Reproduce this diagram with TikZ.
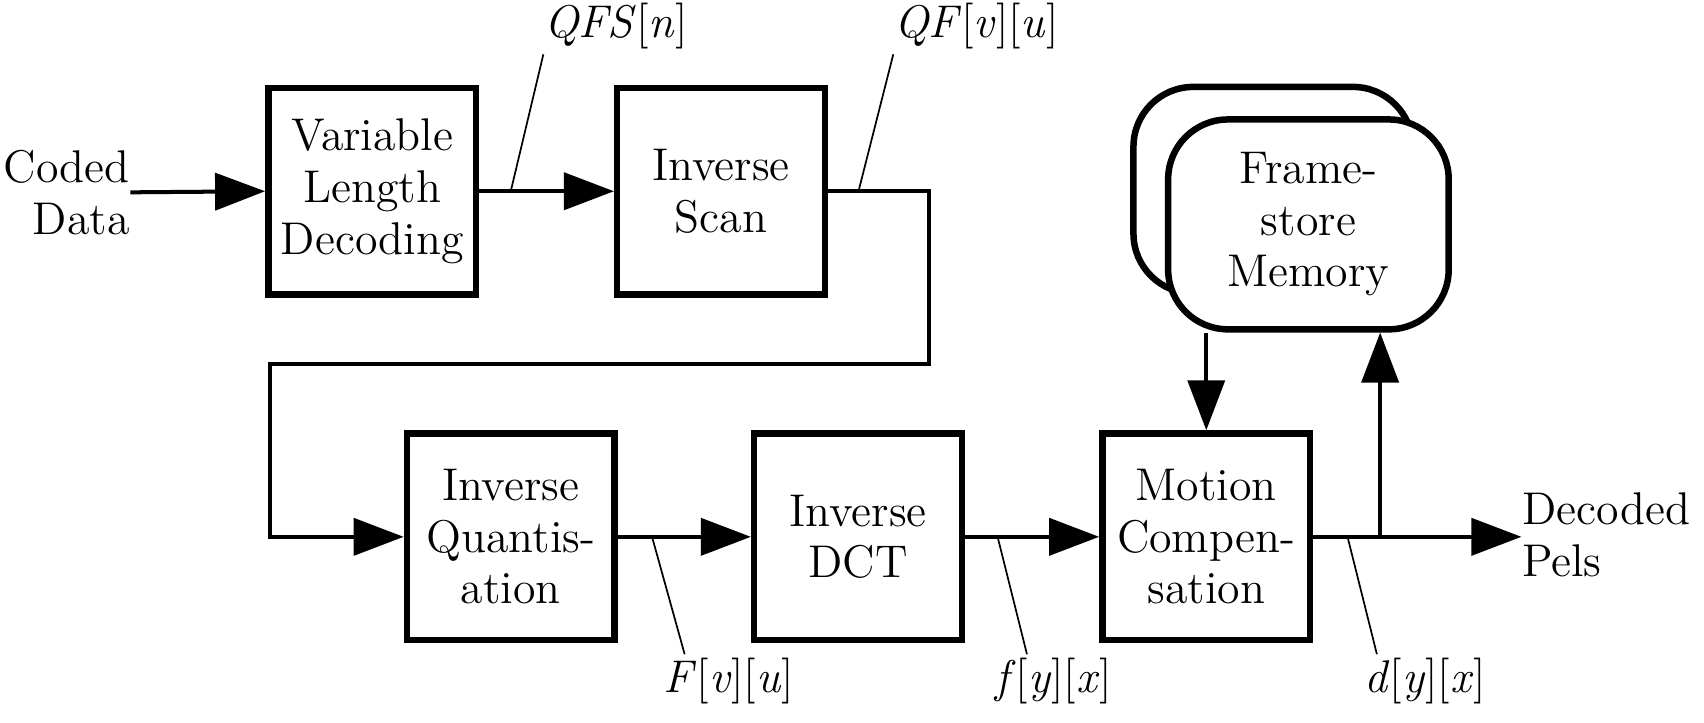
\documentclass[tikz,border=0pt]{standalone}
\usetikzlibrary{arrows.meta,calc}
\begin{document}
\begin{tikzpicture}[x=0.01cm,y=-0.01cm,
 blk/.style={draw,line width=1.7pt,minimum width=1.91cm,minimum height=1.9cm,align=center,inner sep=0pt,font=\rmfamily\fontsize{12}{13.5}\selectfont},
 mem/.style={draw,fill=white,line width=1.7pt,rounded corners=0.55cm,minimum width=2.58cm,minimum height=1.93cm,align=center,inner sep=0pt,font=\rmfamily\fontsize{12}{13.5}\selectfont},
 conn/.style={line width=1.05pt,-{Triangle[length=4.6mm,width=3.4mm]}},
 wire/.style={line width=1.05pt},
 lead/.style={line width=0.45pt},
 lbl/.style={font=\rmfamily\fontsize{12}{13.5}\selectfont,inner sep=0pt},
 txt/.style={font=\rmfamily\fontsize{12}{13.5}\selectfont,inner sep=0pt}]
\useasboundingbox (0,0) rectangle (1568,665);
% blocks
\node[txt,align=right,anchor=east] (in) at (120,177) {Coded\\Data};
\node[blk] (vld) at (342.5,176) {Variable\\Length\\Decoding};
\node[blk] (scan) at (663.5,176) {Inverse\\Scan};
\node[blk] (iq) at (470,494) {Inverse\\Quantis-\\ation};
\node[blk] (idct) at (789.5,494) {Inverse\\DCT};
\node[blk] (mc) at (1110,494) {Motion\\Compen-\\sation};
\node[txt,align=left,anchor=west] (out) at (1400,492) {Decoded\\Pels};
% frame store
\draw[line width=1.7pt,rounded corners=0.55cm] (1043,80) rectangle (1300,270);
\node[mem] (fs) at (1204,206.5) {Frame-\\store\\Memory};
% connectors
\draw[conn] (in.east) -- (vld.west);
\draw[conn] (vld.east) -- (scan.west);
\coordinate (j1) at (855,335);
\coordinate (j2) at (248,335);
\draw[conn] (scan.east) -| (j1) -- (j2) |- (iq.west);
\draw[conn] (iq.east) -- (idct.west);
\draw[conn] (idct.east) -- (mc.west);
\draw[conn] (mc.east) -- (mc.east -| out.west);
\coordinate (br) at (1270,494);
\draw[conn] (br) -- (br |- fs.south);
\draw[conn] (mc.north |- fs.south) -- (mc.north);
% labels
\node[lbl,anchor=south west] (qfs) at (500,46) {\textit{QFS}[\textit{n}]};
\node[lbl,anchor=south west] (qf) at (822,46) {\textit{QF}[\textit{v}][\textit{u}]};
\node[lbl,anchor=north west] (Fvu) at (610,605) {\textit{F}[\textit{v}][\textit{u}]};
\node[lbl,anchor=north west] (fyx) at (915,605) {\textit{f}[\textit{y}][\textit{x}]};
\node[lbl,anchor=north west] (dyx) at (1255,605) {\textit{d}[\textit{y}][\textit{x}]};
\draw[lead] (470,176) -- ($(qfs.south west)+(0,4)$);
\draw[lead] (790,176) -- ($(qf.south west)+(0,4)$);
\draw[lead] (600,494) -- ($(Fvu.north west)+(20,-3)$);
\draw[lead] (918,494) -- ($(fyx.north west)+(30,-3)$);
\draw[lead] (1240,494) -- ($(dyx.north west)+(12,-3)$);
\end{tikzpicture}
\end{document}
